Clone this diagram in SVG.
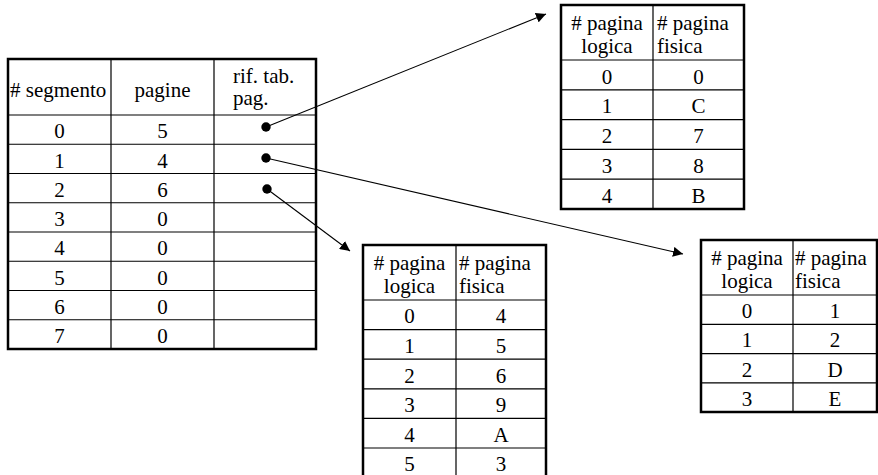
<svg xmlns="http://www.w3.org/2000/svg" width="878" height="475" viewBox="0 0 878 475">
<defs>
<style>
text{font-family:'Liberation Serif','Times New Roman',serif;font-size:21px;fill:#000}
.c{text-anchor:middle}
.outer{fill:#fff;stroke:#000;stroke-width:2.5}
.in{stroke:#000;stroke-width:1.2;fill:none}
.conn{stroke:#000;stroke-width:1.1;fill:none}
.dot{fill:#000}
</style>
<marker id="arr" viewBox="0 0 10 10" refX="10" refY="5" markerWidth="10" markerHeight="10" markerUnits="userSpaceOnUse" orient="auto">
<path d="M0,0 L10,5 L0,10 z" fill="#000"/>
</marker>
</defs>
<rect width="878" height="475" fill="#fff"/>

<g id="segment-table">
<rect class="outer" x="8" y="59" width="308" height="290"/>
<path class="in" d="M111,59V349M214,59V349M8,115H316M8,144.25H316M8,173.5H316M8,202.75H316M8,232H316M8,261.25H316M8,290.5H316M8,319.75H316"/>
<text x="10" y="97"># segmento</text>
<text class="c" x="162.5" y="97">pagine</text>
<text x="233" y="83">rif. tab.</text>
<text x="233" y="105">pag.</text>
<text class="c" x="59.5" y="138.3">0</text><text class="c" x="162.5" y="138.3">5</text>
<text class="c" x="59.5" y="167.5">1</text><text class="c" x="162.5" y="167.5">4</text>
<text class="c" x="59.5" y="196.8">2</text><text class="c" x="162.5" y="196.8">6</text>
<text class="c" x="59.5" y="226">3</text><text class="c" x="162.5" y="226">0</text>
<text class="c" x="59.5" y="255.3">4</text><text class="c" x="162.5" y="255.3">0</text>
<text class="c" x="59.5" y="284.5">5</text><text class="c" x="162.5" y="284.5">0</text>
<text class="c" x="59.5" y="313.8">6</text><text class="c" x="162.5" y="313.8">0</text>
<text class="c" x="59.5" y="343">7</text><text class="c" x="162.5" y="343">0</text>
<circle class="dot" cx="266" cy="127" r="4.7"/>
<circle class="dot" cx="266" cy="158" r="4.7"/>
<circle class="dot" cx="267" cy="189" r="4.7"/>
</g>

<g id="page-table-0">
<rect class="outer" x="561" y="5" width="183" height="204"/>
<path class="in" d="M653,5V209M561,60H744M561,89.8H744M561,119.6H744M561,149.4H744M561,179.2H744"/>
<text class="c" x="607" y="30"># pagina</text>
<text class="c" x="607" y="53">logica</text>
<text x="657" y="30"># pagina</text>
<text x="657" y="53">fisica</text>
<text class="c" x="607" y="83.5">0</text><text class="c" x="698.5" y="83.5">0</text>
<text class="c" x="607" y="113.3">1</text><text class="c" x="698.5" y="113.3">C</text>
<text class="c" x="607" y="143.1">2</text><text class="c" x="698.5" y="143.1">7</text>
<text class="c" x="607" y="172.9">3</text><text class="c" x="698.5" y="172.9">8</text>
<text class="c" x="607" y="202.7">4</text><text class="c" x="698.5" y="202.7">B</text>
</g>

<g id="page-table-2">
<rect class="outer" x="363" y="245" width="183" height="233"/>
<path class="in" d="M456,245V478M363,300H546M363,329.6H546M363,359.2H546M363,388.8H546M363,418.4H546M363,448H546"/>
<text class="c" x="409.5" y="270"># pagina</text>
<text class="c" x="409.5" y="293">logica</text>
<text x="459" y="270"># pagina</text>
<text x="459" y="293">fisica</text>
<text class="c" x="409.5" y="323.3">0</text><text class="c" x="501" y="323.3">4</text>
<text class="c" x="409.5" y="352.9">1</text><text class="c" x="501" y="352.9">5</text>
<text class="c" x="409.5" y="382.5">2</text><text class="c" x="501" y="382.5">6</text>
<text class="c" x="409.5" y="412.1">3</text><text class="c" x="501" y="412.1">9</text>
<text class="c" x="409.5" y="441.7">4</text><text class="c" x="501" y="441.7">A</text>
<text class="c" x="409.5" y="471.3">5</text><text class="c" x="501" y="471.3">3</text>
</g>

<g id="page-table-1">
<rect class="outer" x="701" y="240" width="176" height="172"/>
<path class="in" d="M793,240V412M701,295H877M701,324.3H877M701,353.6H877M701,382.9H877"/>
<text class="c" x="747" y="265"># pagina</text>
<text class="c" x="747" y="288">logica</text>
<text x="795" y="265"># pagina</text>
<text x="795" y="288">fisica</text>
<text class="c" x="747" y="318">0</text><text class="c" x="835" y="318">1</text>
<text class="c" x="747" y="347.3">1</text><text class="c" x="835" y="347.3">2</text>
<text class="c" x="747" y="376.6">2</text><text class="c" x="835" y="376.6">D</text>
<text class="c" x="747" y="405.9">3</text><text class="c" x="835" y="405.9">E</text>
</g>

<g id="connectors">
<line class="conn" x1="266" y1="127" x2="546" y2="14" marker-end="url(#arr)"/>
<line class="conn" x1="266" y1="158" x2="683" y2="254" marker-end="url(#arr)"/>
<line class="conn" x1="267" y1="189" x2="350" y2="251" marker-end="url(#arr)"/>
</g>
</svg>
